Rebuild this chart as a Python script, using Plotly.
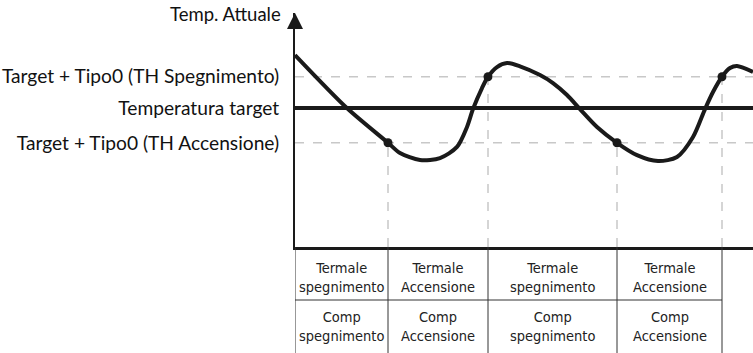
import plotly.graph_objects as go

# time (minutes) and temperature
curve_t = [0, 5.3, 9.3, 10.5, 12.5, 14.5, 16.2, 17.2, 17.8, 18.7, 19.3, 20.2, 21.2, 22.5,
           24.5, 25.8, 27.2, 28.5, 30.2, 32.2, 34.2, 36.3, 38.2, 39.8, 41.0, 41.8, 42.7,
           43.5, 44.2, 45.8]
curve_temp = [23.05, 19.94, 18.0, 17.41, 17.01, 17.12, 17.76, 18.91, 19.94, 21.15, 21.8,
              22.36, 22.59, 22.40, 21.90, 21.44, 20.75, 19.94, 18.91, 18.0, 17.29, 16.95,
              17.18, 18.33, 19.94, 20.92, 21.8, 22.30, 22.42, 22.07]

target = 20
th_on = 18       # Target + Tipo0 (TH Accensione)
th_off = 21.8    # Target + Tipo0 (TH Spegnimento)
t_end = 45.8
y_min, y_max = 12, 25.47

event_t = [9.3, 19.3, 32.2, 42.7]
event_temp = [th_on, th_off, th_on, th_off]

level_vals = [th_on, target, th_off]
level_text = ["Target + Tipo0 (TH Accensione)", "Temperatura target",
              "Target + Tipo0 (TH Spegnimento)"]

row1 = ["Termale<br>spegnimento", "Termale<br>Accensione",
        "Termale<br>spegnimento", "Termale<br>Accensione"]
row2 = ["Comp<br>spegnimento", "Comp<br>Accensione",
        "Comp<br>spegnimento", "Comp<br>Accensione"]

fig = go.Figure()

# dashed thresholds
for lv in [th_on, th_off]:
    fig.add_trace(go.Scatter(x=[0, t_end], y=[lv, lv], mode="lines",
                             line=dict(color="#c8c8c8", width=1.5, dash="dash"),
                             hoverinfo="skip"))

# dashed verticals from baseline to the switching points
for t, v in zip(event_t, event_temp):
    fig.add_trace(go.Scatter(x=[t, t], y=[y_min, v], mode="lines",
                             line=dict(color="#c8c8c8", width=1.5, dash="dash"),
                             hoverinfo="skip"))

# target line
fig.add_trace(go.Scatter(x=[0, t_end], y=[target, target], mode="lines",
                         line=dict(color="#1a1a1a", width=4), hoverinfo="skip"))

# temperature curve
fig.add_trace(go.Scatter(x=curve_t, y=curve_temp, mode="lines",
                         line=dict(color="#1a1a1a", width=4, shape="spline", smoothing=0.8),
                         hoverinfo="skip"))

fig.add_trace(go.Scatter(x=event_t, y=event_temp, mode="markers",
                         marker=dict(color="#1a1a1a", size=9), hoverinfo="skip"))

# table below the time axis
cols = [0] + event_t + [t_end]
row_split = -0.2265
bottom = -0.46
shapes = []
for c in cols[:-1]:
    shapes.append(dict(type="line", xref="x", yref="paper", x0=c, x1=c, y0=0, y1=bottom,
                       line=dict(color="#333", width=1)))
shapes.append(dict(type="line", xref="x", yref="paper", x0=0, x1=event_t[-1],
                   y0=row_split, y1=row_split, line=dict(color="#333", width=1)))

annotations = []
for i in range(len(row1)):
    mid = (cols[i] + cols[i + 1]) / 2
    annotations.append(dict(x=mid, y=-0.13, xref="x", yref="paper", text=row1[i],
                            showarrow=False, yanchor="middle"))
    annotations.append(dict(x=mid, y=-0.34, xref="x", yref="paper", text=row2[i],
                            showarrow=False, yanchor="middle"))
for a in annotations:
    a["font"] = dict(family="DejaVu Sans Condensed", size=14.5, color="#222")

# axis arrow and title
annotations.append(dict(x=0, y=1, xref="x", yref="paper", ax=0, ay=14, text="",
                        showarrow=True, arrowhead=2, arrowsize=1.6, arrowwidth=2,
                        arrowcolor="#1a1a1a", standoff=0))
annotations.append(dict(x=0, y=1, xref="paper", yref="paper", xanchor="right",
                        yanchor="middle", xshift=-12, yshift=-1, text="Temp. Attuale",
                        showarrow=False, font=dict(family="Lato", size=18.5, color="#111")))

fig.update_layout(
    width=753, height=353,
    margin=dict(l=295, r=0, t=13, b=106),
    plot_bgcolor="white", paper_bgcolor="white",
    showlegend=False,
    shapes=shapes,
    annotations=annotations,
    xaxis=dict(range=[0, t_end], showgrid=False, zeroline=False, showticklabels=False,
               showline=True, linecolor="#1a1a1a", linewidth=2.5, fixedrange=True,
               automargin=False),
    yaxis=dict(range=[y_min, y_max], showgrid=False, zeroline=False, showline=True,
               linecolor="#1a1a1a", linewidth=2, tickvals=level_vals, ticktext=level_text,
               ticks="", ticklabelstandoff=10, automargin=False,
               tickfont=dict(family="Lato", size=19.2, color="#111"), fixedrange=True),
)

fig.write_html("out.html", config={"displayModeBar": False},
               post_script="document.body.style.margin='0';")
